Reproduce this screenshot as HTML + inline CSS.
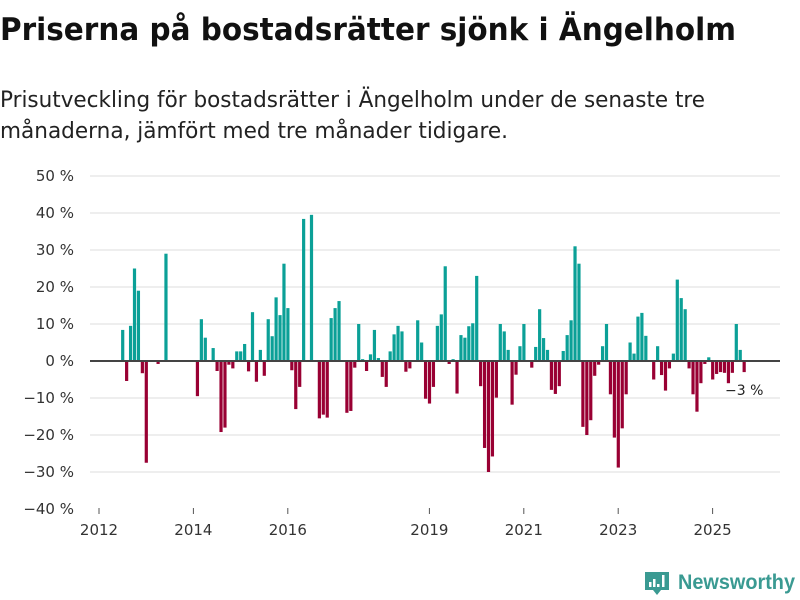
<!DOCTYPE html>
<html><head><meta charset="utf-8"><style>
body{margin:0;background:#fff;}
svg{display:block;font-family:"DejaVu Sans","Liberation Sans",sans-serif;}
</style></head><body>
<svg id="chart" width="800" height="600" viewBox="0 0 800 600">
<text x="0" y="40" font-size="31" font-weight="bold" fill="#111" textLength="736" lengthAdjust="spacingAndGlyphs">Priserna på bostadsrätter sjönk i Ängelholm</text>
<text x="0" y="107" font-size="22" fill="#222" textLength="705" lengthAdjust="spacingAndGlyphs">Prisutveckling för bostadsrätter i Ängelholm under de senaste tre</text>
<text x="0" y="138" font-size="22" fill="#222" textLength="508" lengthAdjust="spacingAndGlyphs">månaderna, jämfört med tre månader tidigare.</text>
<g id="grid"></g><g id="bars"></g><g id="axes"></g>
<text x="725" y="395" font-size="14" fill="#222">−3 %</text>
<g>
<path d="M645 572 h24 v18 h-8 l-4 5 l-4 -5 h-8 z" fill="#3a9a92"/>
<rect x="649" y="582" width="2.5" height="5" fill="#fff"/><rect x="653" y="579" width="2.5" height="8" fill="#fff"/><rect x="657" y="584" width="2.5" height="3" fill="#fff"/><rect x="662" y="575" width="2.5" height="12" fill="#fff"/>
<text x="678" y="589" font-size="21" font-weight="bold" fill="#3a9a92" font-family="Liberation Sans, sans-serif" textLength="117" lengthAdjust="spacingAndGlyphs">Newsworthy</text>
</g>
</svg>
<script>
const yTicks=[50,40,30,20,10,0,-10,-20,-30,-40];
const xTickYears=[2012,2014,2016,2019,2021,2023,2025];
const startYear=2012;
const values=[null,null,null,null,null,null,8.4,-5.4,9.5,25,19,-3.3,-27.5,null,null,-0.8,null,29,null,null,null,null,null,null,null,-9.5,11.3,6.3,null,3.5,-2.7,-19.2,-18,-1,-2,2.6,2.6,4.6,-2.8,13.2,-5.6,3,-4,11.3,6.7,17.2,12.4,26.3,14.3,-2.5,-13,-7,38.4,null,39.5,null,-15.5,-14.5,-15.3,11.6,14.3,16.2,null,-14,-13.5,-1.8,10,0.5,-2.7,1.8,8.4,0.8,-4.3,-7,2.6,7.2,9.5,8,-2.9,-2,null,11,5,-10.2,-11.5,-7,9.5,12.6,25.6,-0.8,0.5,-8.8,7,6.3,9.4,10.2,23,-6.8,-23.5,-30,-25.8,-9.9,10,8,3,-11.8,-3.7,4,10,null,-1.8,3.8,14,6.2,3,-7.8,-8.9,-6.8,2.7,7,11,31,26.3,-17.8,-20,-16,-4,-1,4,10,-9,-20.7,-28.8,-18.2,-9,5,2,12,13,6.8,null,-5,4,-3.8,-8,-2,2,22,17,14,-2,-9,-13.7,-6,-0.8,1,-5,-3.5,-3,-3.2,-6,-3.2,10,3,-3];
const NS="http://www.w3.org/2000/svg";
function y(v){return 361-v*3.7;}
function xYear(yr){return 99+(yr-startYear)*47.2;}
function xMonth(i){return xYear(startYear+i/12);}
function mk(t,a,p){const e=document.createElementNS(NS,t);for(const k in a)e.setAttribute(k,a[k]);p.appendChild(e);return e;}
const grid=document.getElementById('grid'),bars=document.getElementById('bars'),axes=document.getElementById('axes');
yTicks.forEach(t=>{
  if(t!==0&&t!==-40){const l=mk('line',{x1:90,x2:780,y1:y(t),y2:y(t),stroke:'#dcdcdc','stroke-width':1},grid);
  
  }
  const tx=mk('text',{x:74,y:y(t)+5,'font-size':15,fill:'#333','text-anchor':'end'},axes);
  tx.textContent=(t<0?'−'+(-t):t)+' %';
  
  
});
values.forEach((v,i)=>{
  if(v===null)return;
  const x=xMonth(i)-1.5;
  const r=mk('rect',{x:x,width:3.2,y:v>=0?y(v):y(0),height:Math.abs(y(v)-y(0)),fill:v>=0?'#0ba097':'#990033'},bars);
  
  
});
const z=mk('line',{x1:90,x2:780,y1:y(0),y2:y(0),stroke:'#444','stroke-width':2},axes);


xTickYears.forEach(yr=>{
  const x=xYear(yr);
  const tk=mk('line',{x1:x,x2:x,y1:508,y2:514,stroke:'#555','stroke-width':1},axes);
  
  
  const tx=mk('text',{x:x,y:535,'font-size':15,fill:'#333','text-anchor':'middle'},axes);
  tx.textContent=yr;
  
  
});
</script>
</body></html>
